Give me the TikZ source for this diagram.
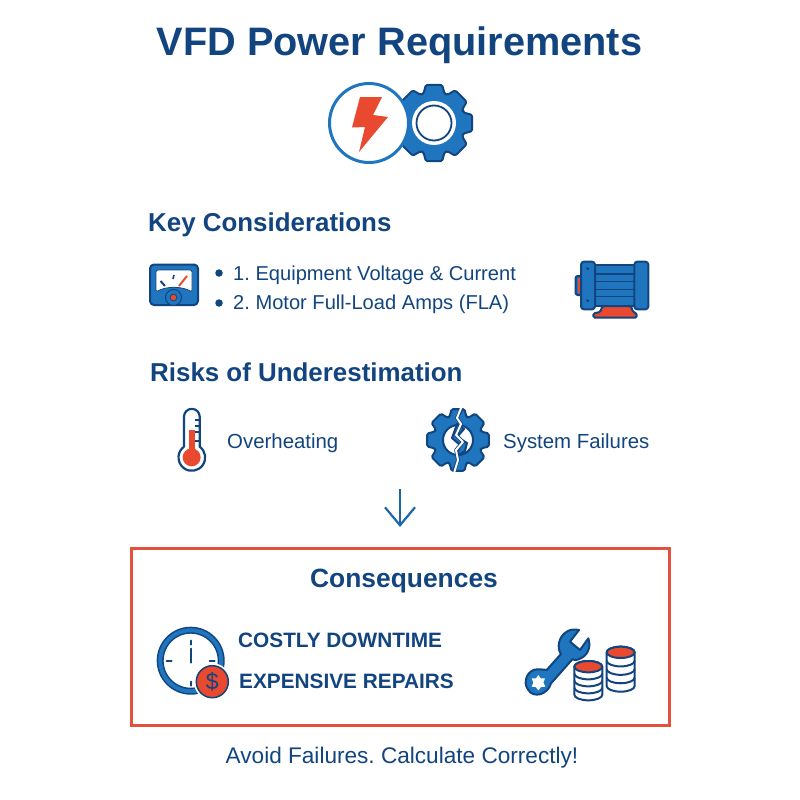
\documentclass[tikz,border=0pt]{standalone}
\usepackage{fontspec}
\setmainfont{Liberation Sans}
\usetikzlibrary{arrows.meta}
\definecolor{navy}{HTML}{12457F}
\definecolor{bluef}{HTML}{1F75BE}
\definecolor{redf}{HTML}{E9492F}
\definecolor{boxred}{HTML}{E5503C}
\newcommand\fsz[1]{\fontsize{#1}{#1}\selectfont}
\newcommand\gearoutline[4]{% inner radius, outer radius, outer half angle, inner half angle
  (-#4:#1) \foreach \a in {0,45,...,315} { -- (\a-#4:#1) -- (\a-#3:#2) -- (\a+#3:#2) -- (\a+#4:#1) } -- cycle}
\newcommand\coinstack[4]{% cx, top y, bottom y, rx (zoom units)
  \filldraw[icon,fill=white] (#1-#4,#2) -- (#1-#4,#3-14) arc[start angle=180,end angle=0,x radius=#4,y radius=17] -- (#1+#4,#2) arc[start angle=0,end angle=-180,x radius=#4,y radius=17] -- cycle;
  \foreach \k in {1,2,3} {\draw[icon] (#1-#4,{#2+(#3-14-#2)*\k/4}) arc[start angle=180,end angle=0,x radius=#4,y radius=17];}
  \filldraw[icon,fill=redf] (#1,#2) ellipse[x radius=#4,y radius=17];
}
\tikzset{
  icon/.style={draw=navy,line width=2pt,line join=round},
  head/.style={font=\bfseries\fsz{25.9},text=navy,anchor=west,inner sep=0pt},
  body/.style={font=\fsz{20.4},text=navy,anchor=west,inner sep=0pt},
  list/.style={font=\fsz{20.1},text=navy,anchor=west,inner sep=0pt},
  caps/.style={font=\bfseries\fsz{20.8},text=navy,anchor=west,inner sep=0pt},
  tick/.style={draw=navy,line width=2pt,line cap=round},
  dot/.style={circle,fill=navy,inner sep=0pt,minimum size=7.5pt},
}
\frenchspacing
\begin{document}
\begin{tikzpicture}[x=1pt,y=-1pt]
\useasboundingbox (0,0) rectangle (800,800);
\fill[white] (0,0) rectangle (800,800);

\node[font=\bfseries\fsz{39.7},text=navy,inner sep=0pt] (title) at (399.5,45.5) {VFD Power Requirements};

% title icon: gear
\begin{scope}[shift={(434,123)}]
  \filldraw[icon,fill=bluef,rounded corners=1.5pt] \gearoutline{31}{39}{12}{20};
  \fill[white] (0,0) circle (22);
  \draw[navy,line width=1.8pt] (0,0) circle (17.5);
\end{scope}
% title icon: bolt in a circle
\filldraw[draw=bluef,line width=3pt,fill=white] (369,123) circle (39.5);
\fill[redf] (360,97) -- (382,97) -- (373,115) -- (388,117) -- (359,152) -- (365,127) -- (352,127.5) -- cycle;

\node[head] (key) at (148,225) {Key Considerations};

% gauge
\filldraw[icon,fill=bluef,rounded corners=4pt] (150,264.5) rectangle (198,305);
\filldraw[draw=navy,line width=.8pt,fill=white,rounded corners=1.5pt] (156,270) -- (192,270) -- (192,292) .. controls (182,286) and (166,286) .. (156,292) -- cycle;
\draw[navy,line width=2pt] (160.5,281) -- (165,286);
\draw[navy,line width=1.6pt] (174,275) -- (173,279);
\draw[redf,line width=2pt] (187,276) -- (179,286);
\filldraw[draw=navy,line width=1pt,fill=bluef] (173.5,297.5) circle (8);
\filldraw[draw=navy,line width=.8pt,fill=redf] (173.5,297.5) circle (3.4);

\node[dot] (b1) at (219,273) {};
\node[dot] (b2) at (219,303) {};
\node[list] (l1) at (233,275) {1. Equipment Voltage \& Current};
\node[list] (l2) at (233,304) {2. Motor Full-Load Amps (FLA)};

% motor
\begin{scope}[shift={(565,250)},scale=1/3]
  \filldraw[icon,fill=redf,rounded corners=1.5pt] (112,168) -- (198,168) -- (204,186) -- (215,190) -- (215,203) -- (85,203) -- (85,190) -- (106,186) -- cycle;
  \filldraw[icon,fill=bluef,rounded corners=2pt] (32,78) rectangle (52,135);
  \fill[redf] (40,85) rectangle (50,128);
  \filldraw[icon,fill=bluef] (88,45) rectangle (212,168);
  \filldraw[icon,fill=bluef,rounded corners=3pt] (48,35) rectangle (90,178);
  \filldraw[icon,fill=bluef,rounded corners=3pt] (208,35) rectangle (250,178);
  \foreach \yy in {72,95,118,140} {\draw[navy,line width=1.6pt] (90,\yy) -- (208,\yy);}
  \fill[navy] (68,56) circle (5);
  \fill[navy] (68,152) circle (5);
\end{scope}

\node[head] (risks) at (150,372) {Risks of Underestimation};

% thermometer
\begin{scope}[shift={(165,400)},scale=1/3]
  \filldraw[draw=navy,line width=2.2pt,fill=white,line join=round] (57,140) -- (57,50) arc[start angle=180,end angle=360,radius=23.5] -- (104,140) arc[start angle=-54,end angle=234,radius=40] -- cycle;
  \fill[redf] (71,90) rectangle (90,150);
  \fill[redf] (80,172) circle (27);
  \foreach \yy in {60,78,97,122} {\draw[navy,line width=2pt] (91,\yy) -- (104,\yy);}
\end{scope}
\node[body] (over) at (227,443) {Overheating};

% broken gear
\begin{scope}[shift={(458,440)}]
  \filldraw[icon,fill=bluef,rounded corners=1.5pt] \gearoutline{24.5}{31.5}{12}{20};
  \filldraw[icon,fill=white] (0,0) circle (15);
  \filldraw[icon,fill=bluef] (-1,-16) -- (6,-11) -- (-1,-3) -- (9,3) -- (7,11) -- (-1,16) -- (2,5) -- (-6,-2) -- cycle;
  \draw[navy,line width=3.6pt,line join=round] (3.5,-31) -- (-1,-22) -- (3,-16) -- (-2,-5) -- (5,2) -- (-2,10) -- (0,20) -- (-4,31);
  \draw[white,line width=2pt,line join=round] (3.5,-33) -- (-1,-22) -- (3,-16) -- (-2,-5) -- (5,2) -- (-2,10) -- (0,20) -- (-4,33);
\end{scope}
\node[body] (sysf) at (503,443) {System Failures};

% arrow
\coordinate (a1) at (400,489);
\coordinate (a2) at (400,527);
\draw[draw=bluef!70!navy,line width=2.2pt,-{Straight Barb[length=18pt,width=30pt]}] (a1) -- (a2);

% consequences box
\node[draw=boxred,line width=3pt,minimum width=538pt,minimum height=177pt,inner sep=0pt] (box) at (400,636.5) {};
\node[font=\bfseries\fsz{26.4},text=navy,inner sep=0pt] (cons) at (404,581.5) {Consequences};

% clock
\begin{scope}[shift={(190.7,660.7)}]
  \draw[navy,line width=7pt] (0,0) circle (30.5);
  \draw[bluef,line width=4pt] (0,0) circle (30.5);
  \draw[tick] (0,-20) -- (0,-16);
  \draw[tick] (0,-12) -- (0,2);
  \draw[tick] (-24,0) -- (-19,0);
  \draw[tick] (19,0) -- (24,0);
  \draw[tick] (0,21) -- (0,25);
\end{scope}
\filldraw[fill=redf,draw=white,line width=2pt] (212.3,681.7) circle (17.5);
\draw[navy,line width=1.5pt] (212.3,681.7) circle (16);
\node[font=\fsz{23},text=navy,inner sep=0pt] (usd) at (212.3,681.7) {\$};

\node[caps] (c1) at (238,640) {COSTLY DOWNTIME};
\node[caps] (c2) at (239,681) {EXPENSIVE REPAIRS};

% wrench and coins
\begin{scope}[shift={(515,620)},scale=1/3]
  \filldraw[icon,fill=bluef] (95,150) -- (138,102) .. controls (125,85) and (130,50) .. (155,35) .. controls (165,28) and (180,27) .. (192,30) -- (165,65) -- (195,90) -- (220,55) .. controls (230,85) and (215,110) .. (190,118) .. controls (185,121) and (180,121) .. (172,118) -- (108,190) .. controls (98,225) and (55,235) .. (40,210) .. controls (20,185) and (40,145) .. (70,148) .. controls (80,148) and (90,149) .. (95,150) -- cycle;
  \fill[white] (70,165) -- (77,175) -- (90,175) -- (85,188) -- (91,200) -- (78,201) -- (70,211) -- (62,201) -- (50,200) -- (55,188) -- (50,175) -- (63,175) -- cycle;
  \coinstack{317}{97}{212}{42}
  \coinstack{220}{140}{238}{42}
\end{scope}

\node[font=\fsz{22.6},text=navy,inner sep=0pt] (foot) at (402,758) {Avoid Failures. Calculate Correctly!};
\end{tikzpicture}
\end{document}
